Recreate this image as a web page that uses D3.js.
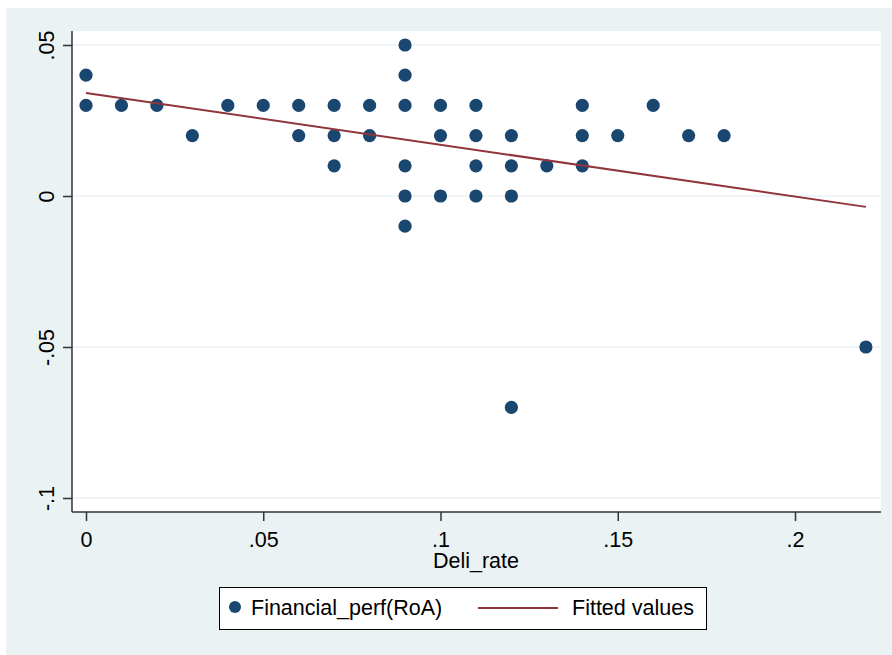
<!DOCTYPE html>
<html>
<head>
<meta charset="utf-8">
<script src="https://cdn.jsdelivr.net/npm/d3@7"></script>
<style>
  body { margin: 0; background: #fff; }
  text { font-family: "Liberation Sans", Arial, sans-serif; fill: #000; }
</style>
</head>
<body>
<svg id="chart"></svg>
<script>
// observations (Deli_rate, Financial_perf(RoA))
const deliRate = [0, 0, 0.01, 0.02, 0.03, 0.04, 0.05, 0.06, 0.06,
  0.07, 0.07, 0.07, 0.08, 0.08,
  0.09, 0.09, 0.09, 0.09, 0.09, 0.09,
  0.10, 0.10, 0.10, 0.11, 0.11, 0.11, 0.11,
  0.12, 0.12, 0.12, 0.12, 0.13, 0.14, 0.14, 0.14,
  0.15, 0.16, 0.17, 0.18, 0.22];
const roa = [0.04, 0.03, 0.03, 0.03, 0.02, 0.03, 0.03, 0.03, 0.02,
  0.03, 0.02, 0.01, 0.03, 0.02,
  0.05, 0.04, 0.03, 0.01, 0, -0.01,
  0.03, 0.02, 0, 0.03, 0.02, 0.01, 0,
  0.02, 0.01, 0, -0.07, 0.01, 0.03, 0.02, 0.01,
  0.02, 0.03, 0.02, 0.02, -0.05];

// fitted line end points
const fitX = [0, 0.22];
const fitY = [0.0341, -0.0036];

const xTicks = [0, 0.05, 0.1, 0.15, 0.2];
const yTicks = [0.05, 0, -0.05, -0.1];
const legendLabels = ["Financial_perf(RoA)", "Fitted values"];

const width = 892, height = 655;
const plot = { left: 72, right: 881, top: 31, bottom: 512 };

const navy = "#1a476f", maroon = "#90353b", bg = "#eaf2f3";

const svg = d3.select("#chart")
  .attr("width", width)
  .attr("height", height);

// outer background
svg.append("rect")
  .attr("x", 6).attr("y", 8)
  .attr("width", width - 6).attr("height", height - 8)
  .attr("fill", bg);

// plot region
svg.append("rect")
  .attr("x", plot.left).attr("y", plot.top)
  .attr("width", plot.right - plot.left).attr("height", plot.bottom - plot.top)
  .attr("fill", "#fff");

const x = d3.scaleLinear([0, 0.2], [86, 795]);
const y = d3.scaleLinear([0, 0.05], [196, 45]);

// stata style labels: .05, -.05, 0
const fmt = d => d === 0 ? "0" : (d < 0 ? "-" : "") + String(+Math.abs(d).toFixed(4)).replace(/^0/, "");

// gridlines
svg.append("g")
  .selectAll("line")
  .data(yTicks)
  .join("line")
  .attr("x1", plot.left).attr("x2", plot.right)
  .attr("y1", d => y(d)).attr("y2", d => y(d))
  .attr("stroke", bg)
  .attr("stroke-width", 1.5);

// y axis
const yAxis = svg.append("g")
  .attr("transform", `translate(${plot.left},0)`)
  .call(d3.axisLeft(y).tickValues(yTicks).tickSize(9).tickFormat(fmt));
yAxis.select(".domain")
  .attr("d", `M0,${plot.top}V${plot.bottom}`)
  .attr("stroke", "#333").attr("stroke-width", 1.5);
yAxis.selectAll(".tick line").attr("stroke", "#333").attr("stroke-width", 1.5);
yAxis.selectAll(".tick text")
  .attr("x", null).attr("dy", null)
  .attr("transform", "translate(-18,0) rotate(-90)")
  .attr("text-anchor", "middle")
  .style("font-size", "21.5px");

// x axis
const xAxis = svg.append("g")
  .attr("transform", `translate(0,${plot.bottom})`)
  .call(d3.axisBottom(x).tickValues(xTicks).tickSize(9).tickFormat(fmt));
xAxis.select(".domain")
  .attr("d", `M${plot.left},0H${plot.right}`)
  .attr("stroke", "#333").attr("stroke-width", 1.5);
xAxis.selectAll(".tick line").attr("stroke", "#333").attr("stroke-width", 1.5);
xAxis.selectAll(".tick text")
  .attr("y", 35).attr("dy", null)
  .style("font-size", "21.5px");

svg.selectAll("g").attr("font-family", null).attr("font-size", null);

svg.append("text")
  .attr("x", 476).attr("y", 568)
  .attr("text-anchor", "middle")
  .style("font-size", "21.5px")
  .text("Deli_rate");

// points
svg.append("g")
  .attr("fill", navy)
  .selectAll("circle")
  .data(deliRate.map((d, i) => [d, roa[i]]))
  .join("circle")
  .attr("cx", d => x(d[0]))
  .attr("cy", d => y(d[1]))
  .attr("r", 6.6);

// fitted line
svg.append("line")
  .attr("x1", x(fitX[0])).attr("y1", y(fitY[0]))
  .attr("x2", x(fitX[1])).attr("y2", y(fitY[1]))
  .attr("stroke", maroon)
  .attr("stroke-width", 2);

// legend
const legend = svg.append("g");
legend.append("rect")
  .attr("x", 219.5).attr("y", 587.5)
  .attr("width", 487).attr("height", 42)
  .attr("fill", "#fff")
  .attr("stroke", "#000")
  .attr("stroke-width", 1);
legend.append("circle")
  .attr("cx", 235).attr("cy", 607)
  .attr("r", 6)
  .attr("fill", navy);
legend.append("text")
  .attr("x", 251).attr("y", 615)
  .style("font-size", "21.5px")
  .text(legendLabels[0]);
legend.append("line")
  .attr("x1", 478).attr("x2", 558)
  .attr("y1", 608).attr("y2", 608)
  .attr("stroke", maroon)
  .attr("stroke-width", 2);
legend.append("text")
  .attr("x", 572).attr("y", 615)
  .style("font-size", "21.5px")
  .text(legendLabels[1]);
</script>
</body>
</html>
